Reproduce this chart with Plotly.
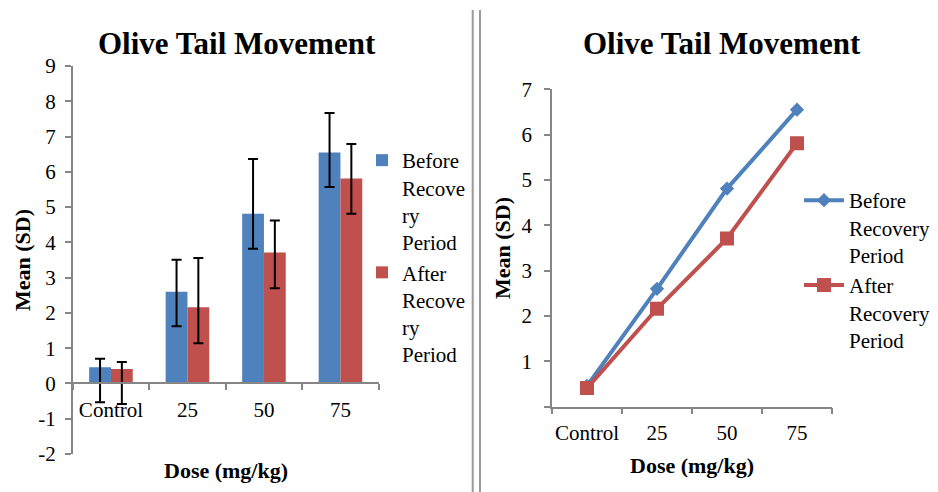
import plotly.graph_objects as go

W, H = 938, 492

doses = ["Control", "25", "50", "75"]
before_mean = [0.46, 2.60, 4.81, 6.55]
after_mean = [0.41, 2.16, 3.71, 5.81]
before_err_plus = [0.24, 0.91, 1.55, 1.12]
before_err_minus = [0.99, 0.98, 0.99, 0.98]
after_err_plus = [0.20, 1.40, 0.91, 0.98]
after_err_minus = [0.99, 1.02, 1.01, 1.00]

bar_names = ["Before<br>Recove<br>ry<br>Period", "After<br>Recove<br>ry<br>Period"]
line_names = ["Before<br>Recovery<br>Period", "After<br>Recovery<br>Period"]
title_text = "Olive Tail Movement"
x_title = "Dose (mg/kg)"
y_title = "Mean (SD)"
left_yticks = [-2, -1, 0, 1, 2, 3, 4, 5, 6, 7, 8, 9]
left_yticklabels = ["-2", "-1", "0", "1", "2", "3", "4", "5", "6", "7", "8", "9"]
right_yticks = [0, 1, 2, 3, 4, 5, 6, 7]
right_yticklabels = ["", "1", "2", "3", "4", "5", "6", "7"]

BLUE = "#4F81BD"
RED = "#C0504D"
AXIS = "#868686"
FONT = "Liberation Serif"

def px(x):
    return x / W

def py(y):
    return 1 - y / H

fig = go.Figure()

fig.add_trace(go.Bar(
    x=doses, y=before_mean, name=bar_names[0], marker_color=BLUE,
    marker_line_width=0,
    error_y=dict(type="data", symmetric=False, array=before_err_plus,
                 arrayminus=before_err_minus, color="black", thickness=2, width=5),
    xaxis="x", yaxis="y", legend="legend"))
fig.add_trace(go.Bar(
    x=doses, y=after_mean, name=bar_names[1], marker_color=RED,
    marker_line_width=0,
    error_y=dict(type="data", symmetric=False, array=after_err_plus,
                 arrayminus=after_err_minus, color="black", thickness=2, width=5),
    xaxis="x", yaxis="y", legend="legend"))

fig.add_trace(go.Scatter(
    x=doses, y=before_mean, name=line_names[0], mode="lines+markers",
    line=dict(color=BLUE, width=4), marker=dict(symbol="diamond", size=11, color=BLUE),
    xaxis="x2", yaxis="y2", legend="legend2"))
fig.add_trace(go.Scatter(
    x=doses, y=after_mean, name=line_names[1], mode="lines+markers",
    line=dict(color=RED, width=4), marker=dict(symbol="square", size=14, color=RED),
    xaxis="x2", yaxis="y2", legend="legend2"))

# left plot geometry
y1_top, y1_bot = py(66), py(454)
y1_min, y1_max = -2, 9
zero_pos = y1_bot + (0 - y1_min) / (y1_max - y1_min) * (y1_top - y1_bot)

tickfont = dict(family=FONT, size=21, color="black")
legfont = dict(family=FONT, size=21, color="black")

common_axis = dict(showgrid=False, showline=True, linecolor=AXIS, linewidth=1.5,
                   ticks="outside", ticklen=6, tickcolor=AXIS, tickwidth=1.5,
                   tickfont=tickfont, zeroline=False, automargin=False)

fig.update_layout(
    width=W, height=H, margin=dict(l=0, r=0, t=0, b=0, autoexpand=False),
    paper_bgcolor="white", plot_bgcolor="white",
    font=dict(family=FONT, color="black"),
    barmode="group", bargap=0.43, bargroupgap=0,
    showlegend=True,
    xaxis=dict(domain=[px(72.7), px(378.7)], anchor="free", position=zero_pos,
               type="category", categoryorder="array", categoryarray=doses,
               range=[-0.5, 3.5], tickson="boundaries", tickangle=0,
               ticklabelstandoff=8, **common_axis),
    yaxis=dict(domain=[y1_bot, y1_top], anchor="x", range=[y1_min, y1_max],
               tickvals=left_yticks, ticktext=left_yticklabels,
               ticklabelstandoff=5, **common_axis),
    xaxis2=dict(domain=[px(552), px(832)], anchor="y2",
                type="category", categoryorder="array", categoryarray=doses,
                range=[-0.5, 3.5], tickson="boundaries", tickangle=0,
                ticklabelstandoff=6, **common_axis),
    yaxis2=dict(domain=[py(406.7), py(89.3)], anchor="x2", range=[0, 7],
                tickvals=right_yticks, ticktext=right_yticklabels,
                ticklabelstandoff=8, **common_axis),
    legend=dict(x=px(362), y=py(140), xanchor="left", yanchor="top",
                font=legfont, valign="top",
                bgcolor="rgba(0,0,0,0)", itemwidth=30, tracegroupgap=0),
    legend2=dict(x=px(799), y=py(180), xanchor="left", yanchor="top",
                 font=legfont, valign="top",
                 bgcolor="rgba(0,0,0,0)", itemwidth=40, tracegroupgap=0),
)

bold_title = dict(family=FONT, size=31, color="black")
bold_axis = dict(family=FONT, size=22, color="black")
annotations = [
    dict(text="<b>%s</b>" % title_text, x=px(237), y=py(43), font=bold_title),
    dict(text="<b>%s</b>" % title_text, x=px(722), y=py(43), font=bold_title),
    dict(text="<b>%s</b>" % x_title, x=px(226), y=py(470), font=bold_axis),
    dict(text="<b>%s</b>" % x_title, x=px(692), y=py(465), font=bold_axis),
    dict(text="<b>%s</b>" % y_title, x=px(22), y=py(260), font=bold_axis, textangle=-90),
    dict(text="<b>%s</b>" % y_title, x=px(503), y=py(248), font=bold_axis, textangle=-90),
]
for a in annotations:
    a.update(xref="paper", yref="paper", showarrow=False, xanchor="center", yanchor="middle")
fig.update_layout(annotations=annotations)

for xv in (472.7, 480):
    fig.add_shape(type="line", xref="paper", yref="paper", x0=px(xv), x1=px(xv),
                  y0=py(10), y1=py(492), line=dict(color="#9A9A9A", width=2))

fig.write_html("out.html", config={"displayModeBar": False},
               post_script="document.body.style.margin='0';")
